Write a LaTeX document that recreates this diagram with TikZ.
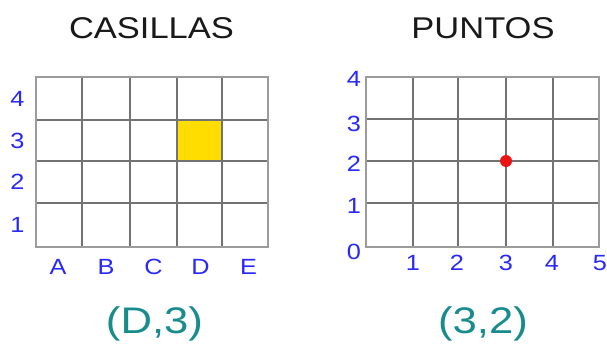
\documentclass[tikz,border=0pt]{standalone}
\usepackage{fontspec}
\setmainfont{Liberation Sans}
\definecolor{lblblue}{RGB}{40,40,250}
\definecolor{tealtxt}{RGB}{24,140,140}
\definecolor{cellyellow}{RGB}{255,221,0}
\definecolor{dotred}{RGB}{235,20,20}
\definecolor{gridin}{RGB}{115,115,115}
\definecolor{gridout}{RGB}{155,155,155}
\newcommand{\sxt}[1]{\scalebox{1.15}[1]{#1}}
\begin{document}
\begin{tikzpicture}[x=1pt,y=-1pt,
  titletxt/.style={inner sep=0pt, anchor=base, font=\fontsize{30}{36}\selectfont, text=black!90},
  lbl/.style={inner sep=0pt, font=\fontsize{22}{26}\selectfont, text=lblblue},
  coordtxt/.style={inner sep=0pt, anchor=base, font=\fontsize{37}{44}\selectfont, text=tealtxt},
  gline/.style={draw=gridin, line width=1.1pt},
  gborder/.style={draw=gridout, line width=1.3pt}]
\useasboundingbox (0,0) rectangle (607,343);
\fill[white] (0,0) rectangle (607,343);

% titles
\node[titletxt] (t1) at (151.5,38.3) {\sxt{CASILLAS}};
\node[titletxt] (t2) at (483,38.3) {\sxt{PUNTOS}};

% left grid (casillas)
\fill[cellyellow] (177,120) rectangle (222,161);
\foreach \x in {82,130,177,222} \draw[gline] (\x,77) -- (\x,247);
\foreach \y in {120,161,203} \draw[gline] (36,\y) -- (268,\y);
\draw[gborder] (36,77) rectangle (268,247);

\node[lbl] (r4) at (17.5,99) {\sxt{4}};
\node[lbl] (r3) at (17.5,140.5) {\sxt{3}};
\node[lbl] (r2) at (17.5,181.7) {\sxt{2}};
\node[lbl] (r1) at (17.5,225) {\sxt{1}};
\node[lbl] (cA) at (58,266.5) {\sxt{A}};
\node[lbl] (cB) at (106,266.5) {\sxt{B}};
\node[lbl] (cC) at (153.5,266.5) {\sxt{C}};
\node[lbl] (cD) at (200.5,266.5) {\sxt{D}};
\node[lbl] (cE) at (248.5,266.5) {\sxt{E}};

% right grid (puntos)
\foreach \x in {413,458,506,553} \draw[gline] (\x,77) -- (\x,247);
\foreach \y in {119,161,203} \draw[gline] (366,\y) -- (599,\y);
\draw[gborder] (366,77) rectangle (599,247);
\node[circle, fill=dotred, inner sep=0pt, minimum size=12pt] (dot) at (506,161) {};

\node[lbl] (y4) at (354,79) {\sxt{4}};
\node[lbl] (y3) at (354,124) {\sxt{3}};
\node[lbl] (y2) at (354,164) {\sxt{2}};
\node[lbl] (y1) at (354,205.5) {\sxt{1}};
\node[lbl] (y0) at (354,252) {\sxt{0}};
\node[lbl] (x1) at (413,263) {\sxt{1}};
\node[lbl] (x2) at (457,263) {\sxt{2}};
\node[lbl] (x3) at (506,263) {\sxt{3}};
\node[lbl] (x4) at (552,263) {\sxt{4}};
\node[lbl] (x5) at (600,263) {\sxt{5}};

% coordinates
\node[coordtxt] (p1) at (154.5,333.3) {\scalebox{1.18}[1]{(D,3)}};
\node[coordtxt] (p2) at (483,333.3) {\scalebox{1.18}[1]{(3,2)}};
\end{tikzpicture}
\end{document}
